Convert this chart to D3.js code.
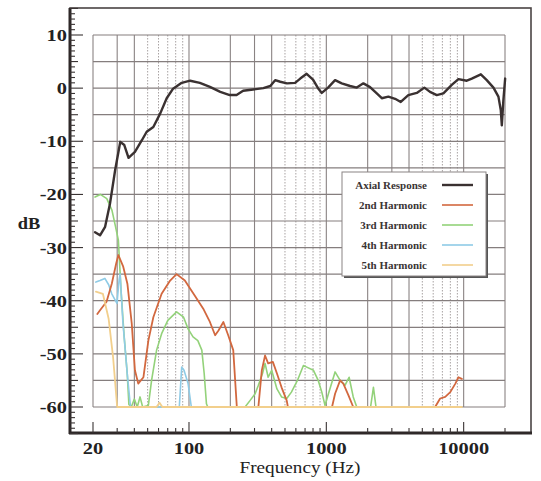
<!DOCTYPE html>
<html><head><meta charset="utf-8">
<script src="https://cdn.jsdelivr.net/npm/d3@7"></script>
<style>body{margin:0;background:#fff}svg{display:block}</style>
</head><body>
<script>
// ---- data ----
const axialF = [20.7,22.5,24.5,26.6,29.0,31.6,33.8,36.3,40.4,45.4,49.2,55,61.9,68.8,76.6,88.5,102,120,142,169,198,222,248,293,348,391,424,462,517,592,646,719,800,870,927,1030,1158,1295,1489,1666,1862,2081,2330,2534,2831,3168,3484,3954,4556,5177,5690,6371,7120,8190,9163,10540,11460,13340,14730,16480,17910,18630,18960,19460,20050];
const axialDB = [-27.1,-27.7,-26.1,-21.7,-15.4,-10.1,-10.7,-13.1,-12.0,-9.8,-8.2,-7.3,-4.7,-1.9,-0.1,1.0,1.4,1.0,0.25,-0.7,-1.3,-1.3,-0.5,-0.25,0,0.4,1.5,1.2,0.9,1.0,1.8,2.7,1.6,0,-0.9,0.1,1.5,0.9,0.4,0.1,0.9,0.2,-1.0,-1.9,-1.6,-2.0,-2.6,-1.3,-0.9,0.1,-0.7,-1.3,-1.0,0.6,1.7,1.4,1.8,2.6,1.5,0.1,-1.6,-4.1,-7.0,-2.3,1.8];

const h2F = [21.5,22.5,25.1,27.4,29.5,30.6,33.2,35.6,38.3,40.4,42.7,46.6,50.6,55,63.2,72.9,81.2,93.3,110,127,142,155,164,178,193,210,223,320,339,358,377,408,437,472,515,525,1100,1158,1260,1330,1450,1570,6196,6740,7340,7990,8700,9160,9700];
const h2DB = [-42.5,-41.8,-40.2,-36.8,-33,-31.4,-33.6,-36.8,-44.3,-53.1,-55.6,-54.4,-47.5,-43.1,-38.7,-36.2,-35.0,-36.2,-39,-41.5,-44,-46.5,-45.6,-44,-46.5,-49.3,-60,-60,-53.1,-50.3,-51.8,-51.5,-53.7,-56.3,-58.8,-60,-60,-57.5,-55,-55.6,-57.8,-60,-60,-58.4,-58.1,-57.2,-55.6,-54.4,-54.7];

const h3F = [20.7,22.6,25.2,27.5,29.2,30.6,32,33.6,35.5,36.5,38,40,42,44,46,50.6,53.4,58.1,63.2,70.1,81.2,91.3,98.5,107,116,124,129,134,137,256,278,303,320,343,358,377,400,437,472,515,557,616,681,720,806,873,927,978,1036,1158,1260,1370,1465,1570,1666,2100,2203,2300,6600];
const h3DB = [-20.5,-20.0,-20.8,-23,-26.1,-28.6,-38,-46.2,-53.7,-59.5,-60,-58.5,-60,-58.1,-60,-59.7,-55,-49.3,-46.2,-43.7,-42.1,-43.1,-45.3,-46.8,-47.5,-49.3,-53.7,-59.4,-60,-60,-58.8,-57.5,-55.9,-53.7,-51.8,-54.4,-53.1,-56.6,-58.1,-58.4,-57.2,-55,-52.2,-52.5,-53.1,-55,-57.2,-59.7,-57.5,-53.4,-55,-55.9,-54.4,-58.1,-60,-60,-56.3,-60,-60];

const h4F = [21,22.5,24.4,26,27.4,29.9,31,31.5,33,35.5,37.5,85,88.5,92,98.5,104,5000];
const h4DB = [-36.5,-36.2,-35.8,-37,-38.7,-40.5,-36,-35,-44,-53.7,-60,-60,-52.5,-53.1,-55.6,-60,-60];

const h5F = [21,23.6,26,28,30,58,61,64,9700];
const h5DB = [-38.3,-38.7,-43.4,-50.6,-60,-60,-59.2,-60,-60];

const seriesNames = ["Axial Response","2nd Harmonic","3rd Harmonic","4th Harmonic","5th Harmonic"];
const seriesColors = ["#3a3131","#d2683f","#93d27a","#8fcbe6","#f2cf8c"];

const yTicks = [10,0,-10,-20,-30,-40,-50,-60];
const yTickLabels = ["10","0","-10","-20","-30","-40","-50","-60"];
const xTicks = [20,100,1000,10000];
const xTickLabels = ["20","100","1000","10000"];

// ---- drawing ----
const W = 541, H = 481;
const svg = d3.select("body").append("svg").attr("width", W).attr("height", H);
const x = d3.scaleLog().domain([20, 20000]).range([93, 505]);
const y = d3.scaleLinear().domain([-60, 10]).range([407, 35]);
const frameL = 70, frameR = 531, frameT = 8, frameB = 433;

// grid
const decades = [10,100,1000,10000];
const vgrid = [];
decades.forEach(d => { for (let m = 1; m <= 9; m++) { const f = d*m; if (f >= 20 && f <= 20000) vgrid.push({f, m}); } });
const g = svg.append("g");
g.selectAll("line.vg").data(vgrid).join("line")
  .attr("x1", d => x(d.f)).attr("x2", d => x(d.f))
  .attr("y1", y(10)).attr("y2", y(-60))
  .attr("stroke", d => d.m <= 4 ? "#8a8383" : "#a8a2a2")
  .attr("stroke-width", d => d.m <= 4 ? 1.1 : 1)
  .attr("stroke-dasharray", d => d.m <= 4 ? null : "1.5,1.5");
g.selectAll("line.hg").data(d3.range(-60, 11, 5)).join("line")
  .attr("x1", x(20)).attr("x2", x(20000))
  .attr("y1", d => y(d)).attr("y2", d => y(d))
  .attr("stroke", "#857e7e").attr("stroke-width", 1.2);

// series
const line = d3.line().x(d => x(d[0])).y(d => y(d[1])).curve(d3.curveLinear);
function draw(F, D, color, w) {
  svg.append("path").datum(F.map((f,i) => [f, D[i]]))
    .attr("d", line).attr("fill", "none").attr("stroke", color)
    .attr("stroke-width", w).attr("stroke-linejoin", "round").attr("stroke-linecap", "round");
}
draw(h3F, h3DB, seriesColors[2], 1.6);
draw(h4F, h4DB, seriesColors[3], 1.6);
draw(h2F, h2DB, seriesColors[1], 1.8);
draw(h5F, h5DB, seriesColors[4], 1.8);
draw(axialF, axialDB, seriesColors[0], 2.4);

// frame
svg.append("rect").attr("x", frameL).attr("y", frameT).attr("width", frameR-frameL).attr("height", frameB-frameT)
  .attr("fill", "none").attr("stroke", "#4a4444").attr("stroke-width", 1.6);
svg.append("line").attr("x1", frameL).attr("x2", frameL).attr("y1", frameT).attr("y2", frameB+1)
  .attr("stroke", "#2e2828").attr("stroke-width", 3);
svg.append("line").attr("x1", frameL-1).attr("x2", frameR+1).attr("y1", frameB).attr("y2", frameB)
  .attr("stroke", "#2e2828").attr("stroke-width", 3);

// y ruler ticks
const yAll = d3.range(-65, 16, 1);
svg.selectAll("line.yt").data(yAll).join("line")
  .attr("x1", frameL).attr("x2", d => frameL + (d % 10 === 0 ? 13 : d % 5 === 0 ? 8 : 5))
  .attr("y1", d => y(d)).attr("y2", d => y(d))
  .attr("stroke", "#3a3434").attr("stroke-width", 1.1);
// x ticks
const xAll = [];
[10,100,1000,10000].forEach(d => { for (let m = 1; m <= 9; m++) { const f = d*m; if (f >= 20 && f <= 20000) xAll.push(f); } });
svg.selectAll("line.xt").data(xAll).join("line")
  .attr("x1", d => x(d)).attr("x2", d => x(d))
  .attr("y1", frameB).attr("y2", d => frameB - ([20,100,1000,10000].includes(d) ? 11 : 5))
  .attr("stroke", "#3a3434").attr("stroke-width", 1.1);

// labels (slightly widened serif, like the reference)
const font = "'Liberation Serif', 'DejaVu Serif', serif";
function label(px, py, txt, size, anchor, weight, sx) {
  svg.append("text")
    .attr("transform", `translate(${px},${py}) scale(${sx},1)`)
    .attr("text-anchor", anchor).attr("font-family", font).attr("font-size", size)
    .attr("font-weight", weight).attr("fill", "#222").text(txt);
}
yTicks.forEach((v, i) => label(67, y(v) + 6, yTickLabels[i], 17, "end", "bold", 1.2));
xTicks.forEach((v, i) => label(x(v), 454, xTickLabels[i], 17, "middle", "bold", 1.2));
label(300, 473, "Frequency (Hz)", 16, "middle", "normal", 1.2);
label(29, 229, "dB", 16, "middle", "bold", 1.15);

// legend
const lg = svg.append("g");
lg.append("rect").attr("x", 344).attr("y", 174).attr("width", 144).attr("height", 104).attr("fill", "#555");
lg.append("rect").attr("x", 342).attr("y", 172).attr("width", 144).attr("height", 104)
  .attr("fill", "#fff").attr("stroke", "#8a8484").attr("stroke-width", 1);
seriesNames.forEach((n, i) => {
  const yy = 185 + i * 20;
  lg.append("text").attr("transform", `translate(427,${yy + 3.5}) scale(1.1,1)`).attr("text-anchor", "end")
    .attr("font-family", font).attr("font-size", 10).attr("font-weight", "bold").attr("fill", "#3a3434").text(n);
  lg.append("line").attr("x1", 442).attr("x2", 473).attr("y1", yy).attr("y2", yy)
    .attr("stroke", seriesColors[i]).attr("stroke-width", i === 0 ? 2.4 : 1.6);
});
</script>
</body></html>
